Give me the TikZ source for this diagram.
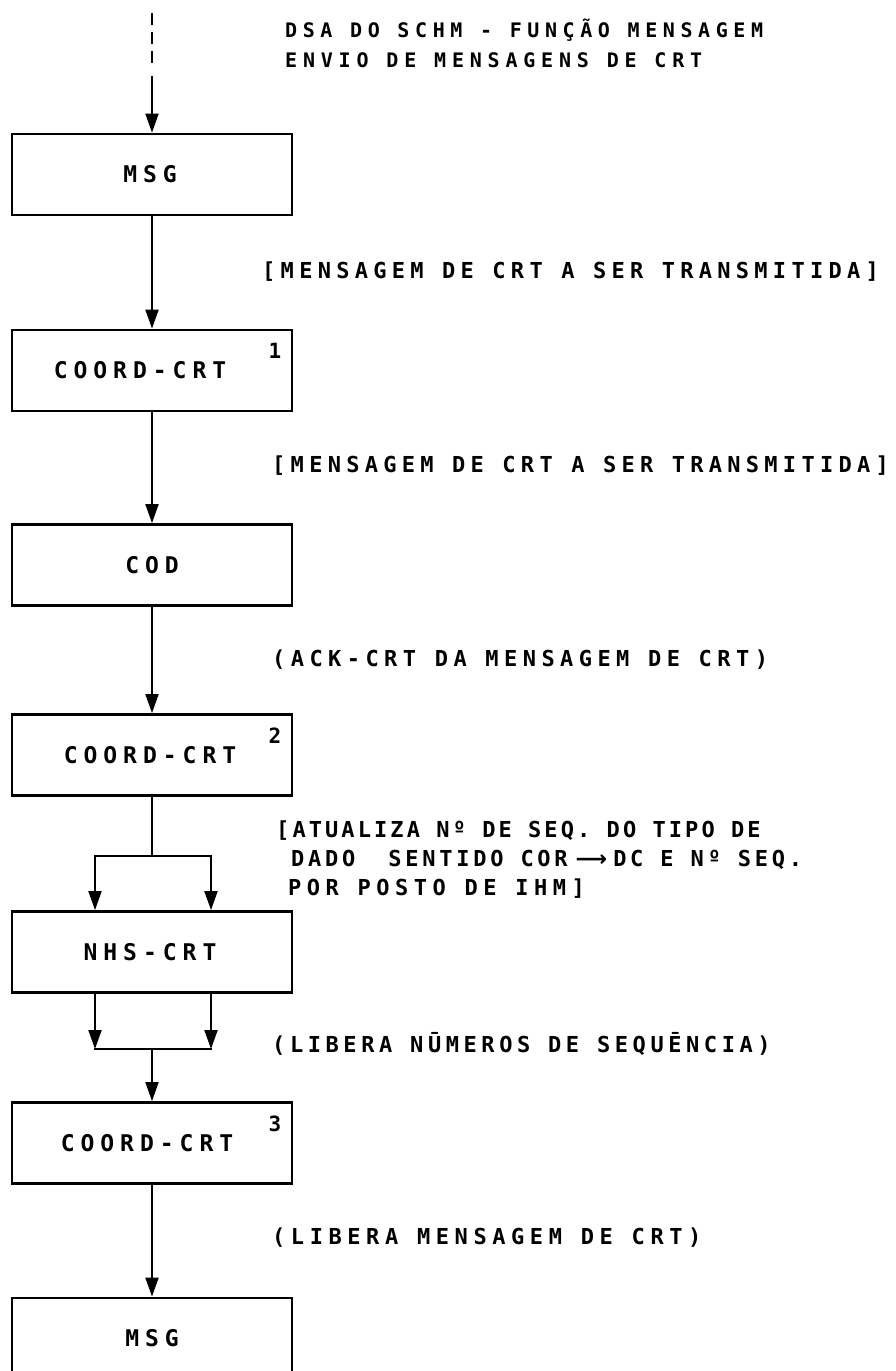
\documentclass[tikz,border=0pt]{standalone}
\usepackage{fontspec}
\usetikzlibrary{arrows.meta}

% Lettering-style face: monospaced sans, bold, with open tracking
\newfontfamily\lblfont{DejaVu Sans Mono}
\newfontfamily\symfont{DejaVu Sans}
\newcommand\lsp[1]{\addfontfeature{LetterSpace=#1}}

\tikzset{
  box/.style={draw, line width=2.8pt, minimum width=280pt, minimum height=81pt,
    inner sep=0pt, font=\lblfont\bfseries\fontsize{23}{28}\selectfont\lsp{26}},
  flow/.style={line width=2pt, -{Triangle[length=19pt,width=13pt]}},
  wire/.style={line width=2pt, line cap=rect},
  lbl/.style={anchor=base west, inner sep=0pt, font=\lblfont\bfseries\fontsize{22}{29}\selectfont},
  ttl/.style={anchor=base west, inner sep=0pt, font=\lblfont\bfseries\fontsize{20}{30}\selectfont},
  num/.style={inner sep=0pt, font=\lblfont\bfseries\fontsize{21}{25}\selectfont},
}

\begin{document}
\begin{tikzpicture}[x=1pt,y=-1pt]
\clip (0,0) rectangle (896,1371);
\fill[white] (0,0) rectangle (896,1371);

% heading
\node[ttl] (t1) at (285,37) {\lsp{28}DSA DO SCHM - FUNÇÃO MENSAGEM};
\node[ttl] (t2) at (285,67) {\lsp{29}ENVIO DE MENSAGENS DE CRT};

% process boxes
\node[box] (msgA) at (152,174.5) {MSG\hspace*{4pt}};
\node[box] (crdA) at (152,370.5) {COORD-CRT\hspace*{24pt}};
\node[box] (cod)  at (152,565)   {COD};
\node[box] (crdB) at (152,755)   {COORD-CRT\hspace*{4pt}};
\node[box] (nhs)  at (152,952)   {NHS-CRT\hspace*{4pt}};
\node[box] (crdC) at (152,1143)  {COORD-CRT\hspace*{10pt}};
\node[box] (msgB) at (152,1338.5){MSG};

% step numbers
\node[num] (n1) at (275,351) {1};
\node[num] (n2) at (275,736) {2};
\node[num] (n3) at (275,1124) {3};

% data labels
\node[lbl] (l1) at (262,278)  {\lsp{24}[MENSAGEM DE CRT A SER TRANSMITIDA]};
\node[lbl] (l2) at (272,472)  {\lsp{24}[MENSAGEM DE CRT A SER TRANSMITIDA]};
\node[lbl] (l3) at (272,666)  {\lsp{24.7}(ACK-CRT DA MENSAGEM DE CRT)};
\node[lbl] (l4a) at (276,837) {\lsp{14}[ATUALIZA Nº DE SEQ. DO TIPO DE};
\node[lbl] (l4b) at (291,866) {\lsp{17}DADO\hspace*{16pt} SENTIDO COR\hspace*{8pt}{\symfont\bfseries ⟶}\hspace*{6pt}DC E Nº SEQ.};
\node[lbl] (l4c) at (288,895) {\lsp{25}POR POSTO DE IHM]};
\node[lbl] (l5) at (272,1052) {\lsp{20.8}(LIBERA NŪMEROS DE SEQUĒNCIA)};
\node[lbl] (l6) at (272,1244) {\lsp{25.3}(LIBERA MENSAGEM DE CRT)};

% incoming request
\coordinate (src) at (152,13);
\draw[flow, dash pattern=on 12pt off 7pt on 12pt off 7pt on 12pt off 13pt on 300pt]
  (src) -- (msgA);

% main flow
\draw[flow] (msgA) -- (crdA);
\draw[flow] (crdA) -- (cod);
\draw[flow] (cod) -- (crdB);

% fork into NHS-CRT
\coordinate (fork)  at (152,856);
\coordinate (forkL) at (95,856);
\coordinate (forkR) at (211,856);
\draw[wire] (crdB) -- (fork);
\draw[wire] (forkL) -- (forkR);
\draw[flow] (forkL) -- (forkL |- nhs.north);
\draw[flow] (forkR) -- (forkR |- nhs.north);

% join after NHS-CRT
\coordinate (joinL) at (95,1049);
\coordinate (joinR) at (211,1049);
\coordinate (join)  at (152,1049);
\draw[flow] (joinL |- nhs.south) -- (joinL);
\draw[flow] (joinR |- nhs.south) -- (joinR);
\draw[wire] (joinL) -- (joinR);
\draw[flow] (join) -- (crdC);
\draw[flow] (crdC) -- (msgB);
\end{tikzpicture}
\end{document}
